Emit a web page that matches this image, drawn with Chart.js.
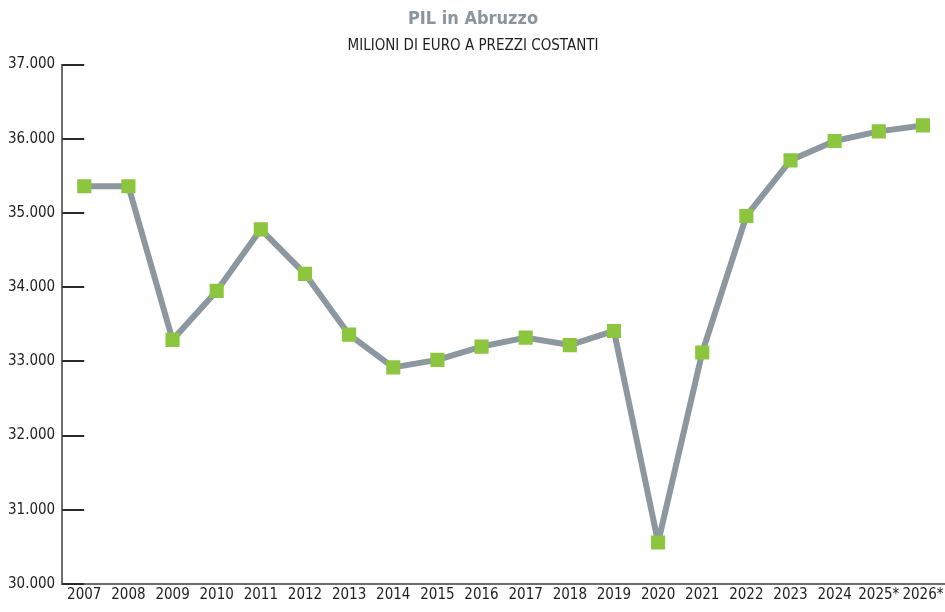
<!DOCTYPE html>
<html>
<head>
<meta charset="utf-8">
<script src="https://cdn.jsdelivr.net/npm/chart.js@4/dist/chart.umd.min.js"></script>
<style>
  html, body { margin: 0; padding: 0; background: #fff; overflow: hidden; }
  #wrap { width: 945px; height: 612px; position: relative; }
  canvas { display: block; }
</style>
</head>
<body>
<div id="wrap"><canvas id="chart"></canvas></div>
<script>
const years = ['2007', '2008', '2009', '2010', '2011', '2012', '2013', '2014', '2015', '2016',
  '2017', '2018', '2019', '2020', '2021', '2022', '2023', '2024', '2025*', '2026*']
const pil = [35360, 35360, 33290, 33950, 34780, 34180, 33360, 32920, 33020, 33200,
  33320, 33220, 33410, 30560, 33120, 34960, 35710, 35970, 36100, 36180]
const yMin = 30000
const yMax = 37000
const yStep = 1000

const FONT = '"Liberation Sans Narrow", "DejaVu Sans Condensed", "Liberation Sans", sans-serif'

// small tick marks drawn inside the plot, right of the y axis
const innerTicks = {
  id: 'innerTicks',
  afterDraw(chart) {
    const y = chart.scales.y
    const ctx = chart.ctx
    ctx.save()
    ctx.strokeStyle = '#2a2a2a'
    ctx.lineWidth = 2
    y.ticks.forEach((t, i) => {
      const py = Math.round(y.getPixelForTick(i))
      ctx.beginPath()
      ctx.moveTo(y.right, py)
      ctx.lineTo(y.right + 22, py)
      ctx.stroke()
    })
    ctx.restore()
  }
}

new Chart(document.getElementById('chart'), {
  type: 'line',
  data: {
    labels: years,
    datasets: [{
      data: pil,
      borderColor: '#8c979f',
      borderWidth: 6,
      borderJoinStyle: 'round',
      tension: 0,
      pointStyle: 'rect',
      pointRadius: 10,
      pointBorderWidth: 0,
      pointBackgroundColor: '#8cc63f',
      pointHoverRadius: 10
    }]
  },
  options: {
    responsive: true,
    maintainAspectRatio: false,
    animation: false,
    layout: { autoPadding: false, padding: { left: 1, right: 0, top: 0, bottom: 6 } },
    plugins: {
      legend: { display: false },
      tooltip: { enabled: false },
      title: {
        display: true,
        text: 'PIL in Abruzzo',
        color: '#8a959d',
        font: { family: FONT, size: 18, weight: 'bold' },
        padding: { top: 9, bottom: 7 }
      },
      subtitle: {
        display: true,
        text: 'MILIONI DI EURO A PREZZI COSTANTI',
        color: '#1e1e1e',
        font: { family: FONT, size: 15 },
        padding: { top: 0, bottom: 9 }
      }
    },
    scales: {
      x: {
        offset: true,
        grid: { display: false, drawTicks: false },
        border: { display: true, color: '#6e6e6e', width: 2 },
        ticks: {
          color: '#1e1e1e',
          font: { family: FONT, size: 15 },
          padding: 2,
          maxRotation: 0,
          autoSkip: false
        },
        // the plot runs to the right edge of the canvas
        afterFit(scale) {
          scale.paddingLeft = 0
          scale.paddingRight = 0
        }
      },
      y: {
        min: yMin,
        max: yMax,
        grid: { display: false, drawTicks: false },
        border: { display: true, color: '#6e6e6e', width: 2 },
        ticks: {
          stepSize: yStep,
          color: '#1e1e1e',
          font: { family: FONT, size: 15 },
          padding: 7,
          callback: v => v.toLocaleString('de-DE')
        }
      }
    }
  },
  plugins: [innerTicks]
})
</script>
</body>
</html>
